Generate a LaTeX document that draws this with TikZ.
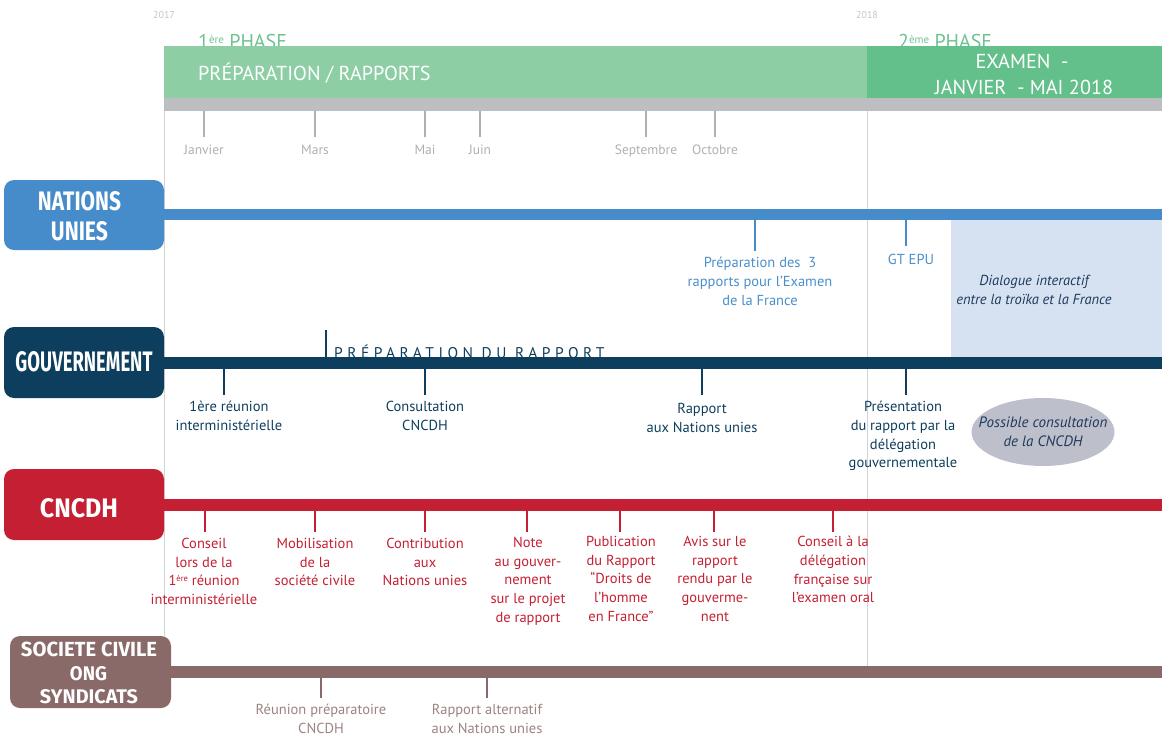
\documentclass[tikz,border=0pt]{standalone}
\usepackage{fontspec}
\usepackage{graphicx}
\setmainfont{PT Sans}
\newfontfamily\titlefont{Fira Sans}
\usetikzlibrary{shapes.geometric}
\definecolor{lgreen}{HTML}{8DCEA5}
\definecolor{dgreen}{HTML}{63C08B}
\definecolor{phasegreen}{HTML}{6CC291}
\definecolor{grayb}{HTML}{BCBEC1}
\definecolor{month}{HTML}{AEB0B3}
\definecolor{yeartxt}{HTML}{C4C5C7}
\definecolor{vline}{HTML}{D2D3D5}
\definecolor{un}{HTML}{468BCA}
\definecolor{unlab}{HTML}{4A8FCC}
\definecolor{gov}{HTML}{0E3E5D}
\definecolor{cn}{HTML}{C41F33}
\definecolor{sc}{HTML}{8A6A68}
\definecolor{sctext}{HTML}{9A8381}
\definecolor{pale}{HTML}{D6E2F1}
\definecolor{ell}{HTML}{BDBFCB}
\definecolor{ital}{HTML}{1F3A5C}
\newcommand\boxttl[3]{\resizebox{#1pt}{#2pt}{\titlefont\bfseries #3}}
\tikzset{
  lbl/.style={font=\fontsize{14.5}{18.7}\selectfont, align=center, anchor=north, inner sep=0pt},
  monthlbl/.style={font=\fontsize{13.5}{16}\selectfont, text=month, anchor=base, inner sep=0pt},
  ticky/.style={line width=2pt},
  rbox/.style={rounded corners=10pt, minimum width=160pt, inner sep=0pt},
  ttlnode/.style={text=white, inner sep=0pt, anchor=center},
  head/.style={text=white, inner sep=0pt, font=\fontsize{20.2}{24}\selectfont}
}
\begin{document}
\begin{tikzpicture}[x=1pt,y=-1pt]
\useasboundingbox (0,0) rectangle (1162,736);
% pale blue zone
\fill[pale] (951,220) rectangle (1162,357);
% vertical year lines
\draw[vline, line width=1pt] (164,111) -- (164,636);
\draw[vline, line width=1pt] (867,111) -- (867,666);
% years
\node[font=\fontsize{10}{12}\selectfont, text=yeartxt, anchor=base, inner sep=0] (y17) at (164,18) {2017};
\node[font=\fontsize{10}{12}\selectfont, text=yeartxt, anchor=base, inner sep=0] (y18) at (867,18) {2018};
% phase titles
\node[font=\fontsize{20}{24}\selectfont, text=phasegreen, anchor=base west, inner sep=0] (ph1) at (198,48) {1\raisebox{5pt}{\fontsize{11}{12}\selectfont ère} PHASE};
\node[font=\fontsize{20}{24}\selectfont, text=phasegreen, anchor=base west, inner sep=0] (ph2) at (898,48) {2\raisebox{5pt}{\fontsize{11}{12}\selectfont ème} PHASE};
% header bars
\fill[lgreen] (164,46) rectangle (867,98);
\fill[dgreen] (867,46) rectangle (1162,98);
\fill[grayb] (164,98) rectangle (1162,111);
\node[head, anchor=base west] (prep) at (198,80) {PRÉPARATION / RAPPORTS};
\node[head, anchor=base] (exam1) at (1022,68) {EXAMEN\ \ -};
\node[head, anchor=base] (exam2) at (1024,94) {JANVIER\ \ - MAI 2018};
% months
\foreach \x/\m/\n in {204/Janvier/jan,315/Mars/mar,425/Mai/mai,480/Juin/jun,646/Septembre/sep,715/Octobre/oct}{
  \draw[month, line width=2pt] (\x,111) -- (\x,137);
  \node[monthlbl] (m\n) at (\x,154) {\m};
}
% ---- Nations unies
\fill[un] (164,209) rectangle (1162,220);
\node[rbox, fill=un, minimum height=70pt] (unbox) at (84,215) {};
\node[ttlnode] (unt1) at (79.5,201) {\boxttl{83}{19}{NATIONS}};
\node[ttlnode] (unt2) at (79.5,231.5) {\boxttl{57}{19}{UNIES}};
\draw[un, ticky] (755,220) -- (755,251);
\draw[un, ticky] (906,220) -- (906,246);
\node[lbl, text=unlab] (prep3) at (760,257) {Préparation des~ 3\\rapports pour l’Examen\\de la France};
\node[lbl, text=unlab, anchor=base] (gtepu) at (911,264) {GT EPU};
\node[lbl, text=ital, font=\fontsize{14.5}{18.7}\selectfont\itshape] (dial) at (1034,275) {Dialogue interactif\\entre la troïka et la France};
% ---- Gouvernement
\node[font=\fontsize{15.5}{18}\selectfont\addfontfeatures{LetterSpace=29}, text=gov, anchor=base west, inner sep=0] (prepr) at (334,358) {PRÉPARATION DU RAPPORT};
\draw[gov, line width=2pt] (326,330) -- (326,358);
\fill[gov] (164,357) rectangle (1162,369);
\node[rbox, fill=gov, minimum height=71pt] (govbox) at (84,362.5) {};
\node[ttlnode] (govt) at (84,362) {\boxttl{137}{20}{GOUVERNEMENT}};
\foreach \x in {224,425,702,906}{\draw[gov, ticky] (\x,369) -- (\x,395);}
\node[lbl, text=gov] (g1) at (229,401) {1ère réunion\\interministérielle};
\node[lbl, text=gov] (g2) at (425,401) {Consultation\\CNCDH};
\node[lbl, text=gov] (g3) at (702,403) {Rapport\\aux Nations unies};
\node[lbl, text=gov] (g4) at (903,401) {Présentation\\du rapport par la\\délégation\\gouvernementale};
\node[ellipse, fill=ell, minimum width=143pt, minimum height=68pt, inner sep=0pt] (poss) at (1043,432) {};
\node[align=center, inner sep=0pt, text=ital, font=\fontsize{15}{18.5}\selectfont\itshape] (posst) at (poss.center) {Possible consultation\\de la CNCDH};
% ---- CNCDH
\fill[cn] (164,499) rectangle (1162,511);
\node[rbox, fill=cn, minimum height=71pt] (cnbox) at (84,504.5) {};
\node[ttlnode] (cnt) at (79,508.5) {\boxttl{78}{19}{CNCDH}};
\foreach \x in {205,315,425,527,620,714,833}{\draw[cn, ticky] (\x,511) -- (\x,532);}
\node[lbl, text=cn] (c1) at (204,538) {Conseil\\lors de la\\1\raisebox{4pt}{\fontsize{8.5}{9}\selectfont ère} réunion\\interministérielle};
\node[lbl, text=cn] (c2) at (315,538) {Mobilisation\\de la\\société civile};
\node[lbl, text=cn] (c3) at (425,538) {Contribution\\aux\\Nations unies};
\node[lbl, text=cn] (c4) at (528,537) {Note\\au gouver-\\nement\\sur le projet\\de rapport};
\node[lbl, text=cn] (c5) at (621,536) {Publication\\du Rapport\\“Droits de\\l’homme\\en France”};
\node[lbl, text=cn] (c6) at (715,536) {Avis sur le\\rapport\\rendu par le\\gouverme-\\nent};
\node[lbl, text=cn] (c7) at (833,536) {Conseil à la\\délégation\\française sur\\l’examen oral};
% ---- Societe civile
\fill[sc] (171,666) rectangle (1162,678);
\node[rbox, fill=sc, minimum width=161pt, minimum height=72pt] (scbox) at (90.5,672) {};
\node[ttlnode] (sct1) at (89,649) {\boxttl{136}{14.5}{SOCIETE CIVILE}};
\node[ttlnode] (sct2) at (88.5,673.5) {\boxttl{37}{14}{ONG}};
\node[ttlnode] (sct3) at (89,697) {\boxttl{98}{14}{SYNDICATS}};
\foreach \x in {321,487}{\draw[sc, ticky] (\x,678) -- (\x,698);}
\node[lbl, text=sctext] (s1) at (321,704) {Réunion préparatoire\\CNCDH};
\node[lbl, text=sctext] (s2) at (487,704) {Rapport alternatif\\aux Nations unies};
\end{tikzpicture}
\end{document}
